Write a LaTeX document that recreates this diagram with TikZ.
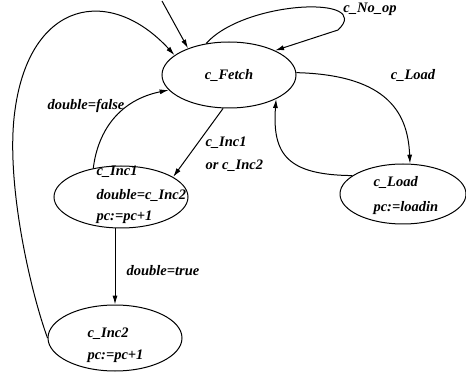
\documentclass[tikz,border=0pt]{standalone}
\usepackage{fontspec}
\setmainfont{Liberation Serif}
\usetikzlibrary{shapes.geometric,arrows.meta}
\begin{document}
\begin{tikzpicture}[x=1pt,y=-1pt,
  every path/.style={line width=1pt},
  state/.style 2 args={draw, ellipse, inner sep=0pt, line width=1pt,
    minimum width=#1, minimum height=#2,
    font=\fontsize{14.5}{17}\selectfont\bfseries\itshape},
  lbl/.style={inner sep=0pt, font=\fontsize{14.5}{17}\selectfont\bfseries\itshape,
    text height=10pt, text depth=2pt},
  arr/.style={-{Latex[length=9pt,width=5pt]}, line width=1pt}
]
\useasboundingbox (0,0) rectangle (466,374);

% states
\node[state={134pt}{66pt}] (fetch) at (229,75) {c\_Fetch};
\node[state={134pt}{62pt}] (inc1) at (121,197) {};
\node[state={126pt}{60pt}] (load) at (403,194) {};
\node[state={134pt}{66pt}] (inc2) at (115,338) {};

% state texts
\node[lbl, anchor=west] (i1a) at (96,172) {c\_Inc1};
\node[lbl, anchor=west] (i1b) at (96,196) {double=c\_Inc2};
\node[lbl, anchor=west] (i1c) at (96,217) {pc:=pc+1};
\node[lbl, anchor=west] (lda) at (373,183) {c\_Load};
\node[lbl, anchor=west] (ldb) at (373,208) {pc:=loadin};
\node[lbl, anchor=west] (i2a) at (87,333) {c\_Inc2};
\node[lbl, anchor=west] (i2b) at (87,355) {pc:=pc+1};

% edge labels
\node[lbl] (lnop) at (370,9) {c\_No\_op};
\node[lbl] (lload) at (413,76) {c\_Load};
\node[lbl] (lfalse) at (86,106) {double=false};
\node[lbl, anchor=west] (linca) at (205,143) {c\_Inc1};
\node[lbl, anchor=west] (lincb) at (205,166) {or c\_Inc2};
\node[lbl] (ltrue) at (163,272) {double=true};

% connectors
\coordinate (init) at (162,1);
\coordinate (nopturn) at (338,30);
\coordinate (leftbend) at (15,110);

\draw[arr] (init) -- (fetch.147);
\draw[arr] (fetch.126) .. controls (245,0) and (375,-5) .. (nopturn) -- (fetch.28);
\draw[arr] (fetch.2) .. controls (390,75) and (408,115) .. (load.77);
\draw[arr] (load.160) .. controls (288,175) and (272,155) .. (fetch.333);
\draw[arr] (fetch.260) -- (inc1.21);
\draw[arr] (inc1.134) .. controls (98,130) and (120,100) .. (fetch.194);
\draw[arr] (inc1.south -| inc2.north) -- (inc2.north);
\draw[arr] (inc2.west) .. controls (30,290) and (5,180) .. (leftbend)
  .. controls (30,0) and (110,-15) .. (fetch.160);
\end{tikzpicture}
\end{document}
